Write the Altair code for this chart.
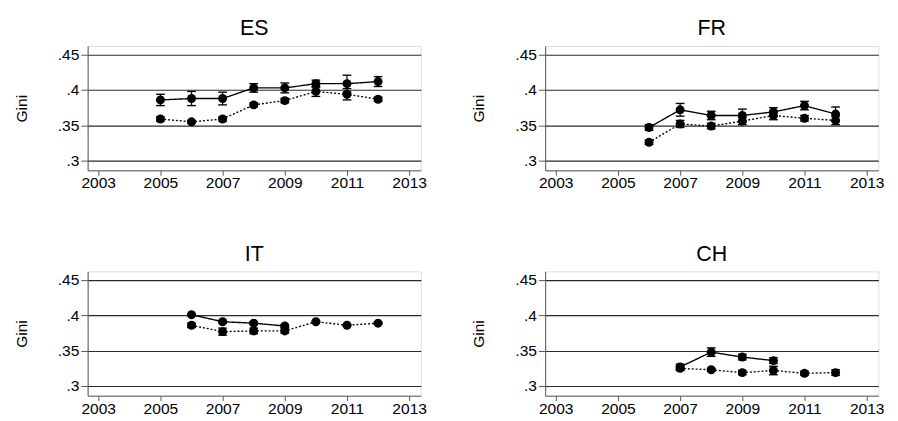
import altair as alt
import pandas as pd

# ---- data ----
ES_years = [2005, 2006, 2007, 2008, 2009, 2010, 2011, 2012]
ES_solid = [0.386, 0.388, 0.388, 0.403, 0.403, 0.409, 0.409, 0.412]
ES_solid_err = [0.008, 0.010, 0.009, 0.006, 0.007, 0.005, 0.012, 0.007]
ES_dot = [0.359, 0.355, 0.359, 0.379, 0.385, 0.398, 0.394, 0.387]
ES_dot_err = [0.003, 0.002, 0.003, 0.003, 0.003, 0.007, 0.008, 0.003]

FR_years = [2006, 2007, 2008, 2009, 2010, 2011, 2012]
FR_solid = [0.347, 0.372, 0.364, 0.364, 0.369, 0.378, 0.366]
FR_solid_err = [0.004, 0.009, 0.006, 0.009, 0.006, 0.006, 0.010]
FR_dot = [0.326, 0.352, 0.349, 0.356, 0.364, 0.360, 0.357]
FR_dot_err = [0.003, 0.005, 0.004, 0.005, 0.006, 0.004, 0.006]

IT_solid_years = [2006, 2007, 2008, 2009]
IT_solid = [0.401, 0.391, 0.389, 0.385]
IT_solid_err = [0.001, 0.002, 0.002, 0.002]
IT_dot_years = [2006, 2007, 2008, 2009, 2010, 2011, 2012]
IT_dot = [0.386, 0.377, 0.378, 0.378, 0.391, 0.386, 0.389]
IT_dot_err = [0.003, 0.005, 0.004, 0.003, 0.001, 0.001, 0.001]

CH_solid_years = [2007, 2008, 2009, 2010]
CH_solid = [0.327, 0.348, 0.341, 0.336]
CH_solid_err = [0.004, 0.006, 0.004, 0.004]
CH_dot_years = [2007, 2008, 2009, 2010, 2011, 2012]
CH_dot = [0.325, 0.323, 0.319, 0.322, 0.318, 0.319]
CH_dot_err = [0.003, 0.002, 0.003, 0.006, 0.003, 0.004]

x_ticks = [2003, 2005, 2007, 2009, 2011, 2013]
y_ticks = [0.3, 0.35, 0.4, 0.45]

rows = []
def add(country, series, years, vals, errs):
    for yr, v, e in zip(years, vals, errs):
        rows.append(dict(country=country, series=series, year=yr, value=v, lo=v - e, hi=v + e))

add("ES", "a", ES_years, ES_solid, ES_solid_err)
add("ES", "b", ES_years, ES_dot, ES_dot_err)
add("FR", "a", FR_years, FR_solid, FR_solid_err)
add("FR", "b", FR_years, FR_dot, FR_dot_err)
add("IT", "a", IT_solid_years, IT_solid, IT_solid_err)
add("IT", "b", IT_dot_years, IT_dot, IT_dot_err)
add("CH", "a", CH_solid_years, CH_solid, CH_solid_err)
add("CH", "b", CH_dot_years, CH_dot, CH_dot_err)
df = pd.DataFrame(rows)

FONT = "Liberation Sans"
W, H = 343, 128

xscale = alt.Scale(domain=[2002.66, 2013.375], nice=False, zero=False)
yscale = alt.Scale(domain=[0.2863, 0.4623], nice=False, zero=False)
xaxis = alt.Axis(values=x_ticks, format="d", title=None, grid=False, tickSize=5,
                 labelFontSize=16, labelPadding=0, labelFont=FONT, labelColor="black",
                 domainColor="#555555", tickColor="#555555", labelFlush=False)
yaxis = alt.Axis(values=y_ticks, labelExpr="substring(format(datum.value, '.2~f'), 1)",
                 title="Gini", titleFontSize=16, titleFont=FONT, titleFontWeight="normal",
                 titleColor="black", titlePadding=29, grid=True, gridColor="#2a2a2a",
                 gridWidth=1.2, tickSize=7, labelFontSize=16, labelPadding=2,
                 labelFont=FONT, labelColor="black", domainColor="#555555",
                 tickColor="#555555")


def panel(c):
    base = alt.Chart(df).transform_filter(alt.datum.country == c)
    X = alt.X("year:Q", scale=xscale, axis=xaxis)
    lines = base.mark_line(color="black", strokeWidth=1.4).encode(
        x=X,
        y=alt.Y("value:Q", scale=yscale, axis=yaxis),
        strokeDash=alt.StrokeDash("series:N", scale=alt.Scale(domain=["a", "b"], range=[[1, 0], [2, 2]]), legend=None),
        detail="series:N",
    )
    bars = base.mark_rule(color="black", strokeWidth=1.2).encode(
        x=X, y=alt.Y("lo:Q", scale=yscale, axis=yaxis), y2="hi:Q")
    cap_lo = base.mark_tick(color="black", orient="horizontal", size=9, thickness=1.4, opacity=1).encode(
        x=X, y=alt.Y("lo:Q", scale=yscale, axis=yaxis))
    cap_hi = base.mark_tick(color="black", orient="horizontal", size=9, thickness=1.4, opacity=1).encode(
        x=X, y=alt.Y("hi:Q", scale=yscale, axis=yaxis))
    pts = base.mark_circle(color="black", size=85, opacity=1).encode(
        x=X, y=alt.Y("value:Q", scale=yscale, axis=yaxis))
    return alt.layer(lines, bars, cap_lo, cap_hi, pts).properties(
        width=W, height=H,
        title=alt.TitleParams(c, fontSize=22, font=FONT, fontWeight="normal", color="black", offset=6),
    )


top = alt.hconcat(panel("ES"), panel("FR"), spacing=44)
bottom = alt.hconcat(panel("IT"), panel("CH"), spacing=44)
chart = alt.vconcat(top, bottom, spacing=52).properties(
    padding={"top": 3, "left": 5, "right": 5, "bottom": 2}
).configure_view(stroke="transparent").configure(background="white")

chart.save("out.html", embed_options={"renderer": "svg", "actions": False})
